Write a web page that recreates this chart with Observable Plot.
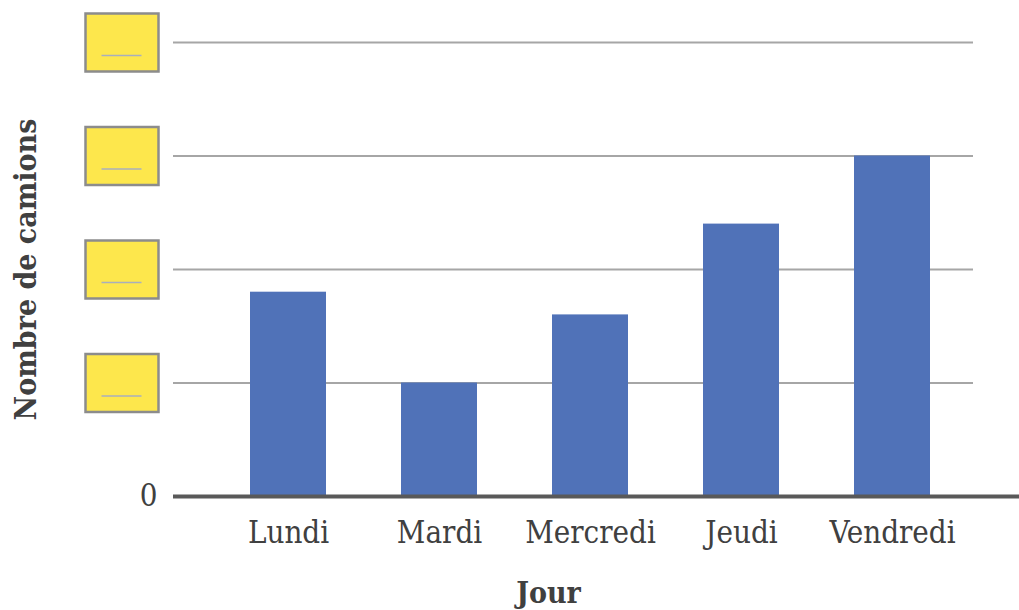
<!DOCTYPE html>
<html><head><meta charset="utf-8">
<script src="https://cdn.jsdelivr.net/npm/d3@7"></script>
<script src="https://cdn.jsdelivr.net/npm/@observablehq/plot@0.6"></script>
<style>body{margin:0;background:#fff}</style>
</head><body><div id="chart"></div>
<script>
const days = ["Lundi","Mardi","Mercredi","Jeudi","Vendredi"];
const trucks = [1.8, 1.0, 1.6, 2.4, 3.0];
const gridTicks = [1, 2, 3, 4];
const zeroTicks = [0];
const xTitle = "Jour";
const yTitle = "Nombre de camions";

const data = days.map((d, i) => ({day: d, n: trucks[i]}));
const box = {draw(ctx) { ctx.rect(-36, -29, 73, 58); }};
const blank = {draw(ctx) { ctx.moveTo(-20, 13); ctx.lineTo(20, 13); }};

const chart = Plot.plot({
  width: 1019, height: 610,
  marginLeft: 173, marginRight: 46, marginTop: 42, marginBottom: 114,
  style: {fontFamily: "'DejaVu Serif Condensed', 'DejaVu Serif', serif", fontSize: "28px", color: "#404040", background: "#fff", overflow: "visible"},
  x: {domain: days, range: [212, 967], paddingInner: 0.5, paddingOuter: 0.25, label: null},
  y: {domain: [0, 4], label: null},
  marks: [
    Plot.ruleY(gridTicks, {stroke: "#a6a6a6", strokeWidth: 2}),
    Plot.barY(data, {x: "day", y: "n", fill: "#5072b8"}),
    Plot.ruleY(zeroTicks, {stroke: "#595959", strokeWidth: 4, insetRight: -46}),
    Plot.axisX({tickSize: 0, tickPadding: 24, fontSize: 31, fill: "#404040"}),
    Plot.axisY(zeroTicks, {tickSize: 0, tickPadding: 16, fontSize: 31, fill: "#404040", tickFormat: d => String(d)}),
    Plot.dot(gridTicks, {y: d => d, frameAnchor: "left", dx: -52, symbol: box, fill: "#fde74c", stroke: "#8c8c8c", strokeWidth: 2.5}),
    Plot.dot(gridTicks, {y: d => d, frameAnchor: "left", dx: -52, symbol: blank, fill: "none", stroke: "#a9afbd", strokeWidth: 1.5}),
    Plot.text([xTitle], {frameAnchor: "bottom", dx: -25, dy: 106, fontSize: 30, fontWeight: "bold", fill: "#404040"}),
    Plot.text([yTitle], {frameAnchor: "left", textAnchor: "middle", rotate: -90, dx: -147, fontSize: 30, fontWeight: "bold", fill: "#404040"})
  ]
});
document.getElementById("chart").append(chart);
</script>
</body></html>
